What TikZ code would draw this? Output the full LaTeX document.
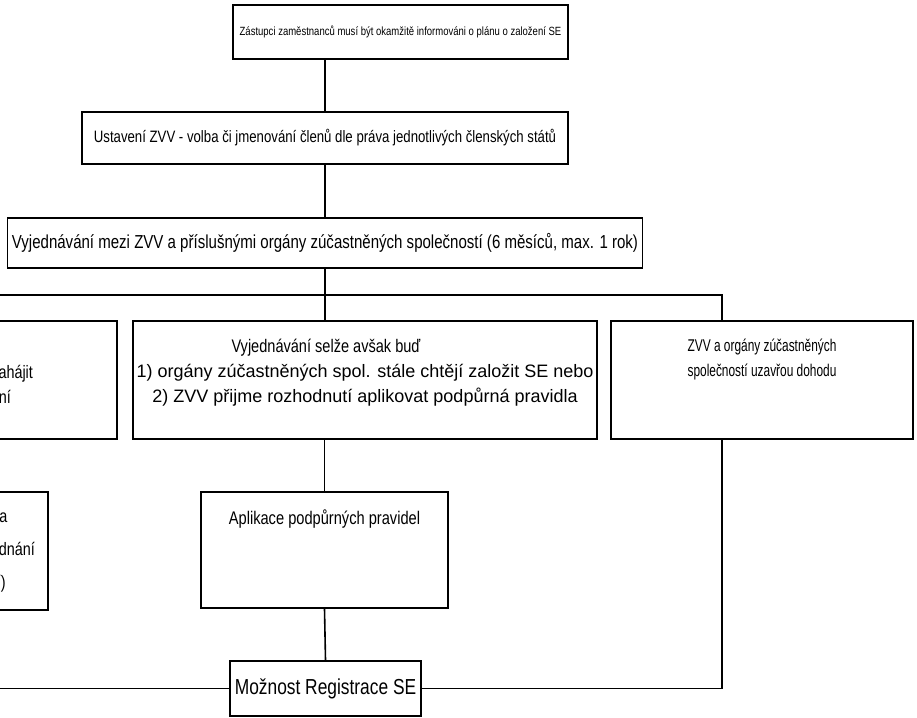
\documentclass[tikz,border=0pt]{standalone}
\usepackage{fontspec}
\setmainfont{Liberation Sans}[FakeStretch=0.8]
\newfontfamily\widefont{Liberation Sans}[FakeStretch=1.0]
\newfontfamily\narrowfont{Liberation Sans}[FakeStretch=0.7]
\usetikzlibrary{positioning}
\newcommand{\fs}[1]{\fontsize{#1}{25}\selectfont}

\begin{document}
\begin{tikzpicture}[x=1pt,y=-1pt,
  box/.style={draw, line width=1.6pt, rectangle, inner sep=0pt, align=center},
  inside/.style={anchor=north, inner sep=0pt, yshift=-19pt, align=center, font=\fs{18}},
  link/.style={line width=1.6pt}]
\clip (0,0) rectangle (917,717);
\node[box, minimum width=335, minimum height=54, font=\fs{11.9}] (oznameni) at (400.5,32) {Zástupci zaměstnanců musí být okamžitě informováni o plánu o založení SE};
\node[box, minimum width=486, minimum height=52, font=\fs{16.5}] (ustaveni) at (325,138) {Ustavení ZVV - volba či jmenování členů dle práva jednotlivých členských států};
\node[box, minimum width=635, minimum height=50, font=\fs{18.8}] (vyjednavani) at (325,243) {Vyjednávání mezi ZVV a příslušnými orgány zúčastněných společností (6 měsíců, max. 1 rok)};
\coordinate (bus) at (722,295);
\node[box, minimum width=353, minimum height=118, label={[inside]north:{ZVV může\\rozhodnout jednání nezahájit\\anebo ukončit jednání}}] (ukonceni) at (-59.5,380) {};
\node[box, minimum width=464, minimum height=118, label={[inside]north:{\fs{18.2}Vyjednávání selže avšak buď\hspace*{78pt}\\\widefont\fs{18}1) orgány zúčastněných spol. stále chtějí založit SE nebo\\\widefont\fs{18}2) ZVV přijme rozhodnutí aplikovat podpůrná pravidla}}] (selhani) at (365,380) {};
\node[box, minimum width=302, minimum height=118, label={[inside, font=\narrowfont\fs{17}]north:{ZVV a orgány zúčastněných\\společností uzavřou dohodu}}] (dohoda) at (762,380) {};
\node[box, minimum width=247, minimum height=116, label={[inside, yshift=1pt, font=\fs{18.3}]north:{Aplikace podpůrných pravidel}}] (aplikace) at (324.5,550) {};
\node[box, minimum width=307, minimum height=118, label={[inside, yshift=1pt, font=\fontsize{18}{33}\selectfont]north:{Platí předpisy státu o informování a\\konzultace zaměstnanců v rámci projednání\\(a bez práva na spolurozhodování)}}] (predpisy) at (-105.5,551) {};
\node[box, minimum width=191, minimum height=55, font=\fs{21.7}] (registrace) at (325.5,688.5) {Možnost Registrace SE};
\draw[link] (oznameni.south -| ustaveni.north) -- (ustaveni.north);
\draw[link] (ustaveni.south) -- (vyjednavani.north);
\draw[link] (vyjednavani.south) -- (vyjednavani.south |- selhani.north);
\draw[link] (ukonceni.north) |- (bus) -- (bus |- dohoda.north);
\draw[link] (selhani.south -| aplikace.north) -- (aplikace.north);
\draw[link] (aplikace.south) -- (registrace.north);
\draw[link] (predpisy.south) |- (registrace.west);
\draw[link] (dohoda.south -| bus) |- (registrace.east);
\end{tikzpicture}
\end{document}
